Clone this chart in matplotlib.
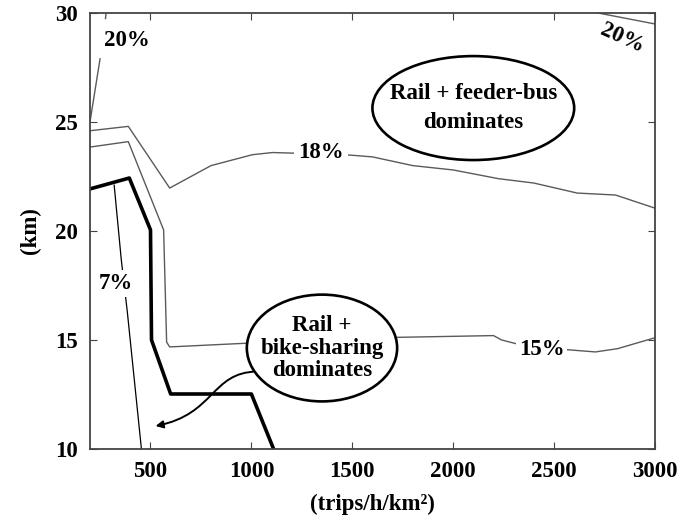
import matplotlib
matplotlib.use("Agg")
import matplotlib.pyplot as plt
import numpy as np
from matplotlib.patches import Ellipse, FancyArrowPatch
from matplotlib.path import Path

plt.rcParams['font.family'] = ['Liberation Serif', 'DejaVu Serif']
plt.rcParams['font.weight'] = 'bold'

# contour lines (nan = gap for the inline label)
c20a_x = [200, 250, np.nan, 277, 280]
c20a_y = [25.0, 27.9, np.nan, 29.75, 30.0]
c20b_x = [2720, 3000]
c20b_y = [30.0, 29.5]
c18_x = [200, 390, 595, 800, 1005, 1105, 1465, 1600, 1800, 2000, 2225, 2400, 2615, 2805, 3000]
c18_y = [24.6, 24.8, 21.97, 23.0, 23.5, 23.6, 23.5, 23.4, 23.0, 22.8, 22.4, 22.2, 21.74, 21.65, 21.05]
c15_x = [200, 390, 565, 580, 595, 975, 1605, 2200, 2240, 2365, 2705, 2815, 3000]
c15_y = [23.85, 24.1, 20.05, 14.9, 14.68, 14.85, 15.1, 15.2, 15.0, 14.7, 14.45, 14.6, 15.1]
c7_x = [320, 355, 385, 455]
c7_y = [22.1, 18.7, 16.3, 10.0]
bound_x = [200, 395, 500, 505, 600, 1000, 1110]
bound_y = [21.93, 22.43, 20.05, 15.0, 12.52, 12.52, 10.0]

fig = plt.figure(figsize=(6.79, 5.22), dpi=100)
ax = fig.add_axes([0.1325, 0.14, 0.832, 0.835])

gray = '#5a5a5a'
ax.plot(c20a_x, c20a_y, color=gray, lw=1)
ax.plot(c20b_x, c20b_y, color=gray, lw=1)
ax.plot(c18_x, c18_y, color=gray, lw=1)
ax.plot(c15_x, c15_y, color=gray, lw=1)
ax.plot(c7_x, c7_y, color='black', lw=0.9)
ax.plot(bound_x, bound_y, color='black', lw=2.6)

fs = 16.5
lbl = dict(fontsize=fs, fontweight='bold', ha='center', va='center')
ax.text(385, 28.75, '20%', **lbl)
ax.text(2840, 28.85, '20%', rotation=-24, **lbl)
ax.text(1345, 23.6, '18%', bbox=dict(fc='white', ec='none', pad=3), **lbl)
ax.text(2440, 14.55, '15%', bbox=dict(fc='white', ec='none', pad=2), **lbl)
ax.text(330, 17.6, '7%', bbox=dict(fc='white', ec='none', pad=2), **lbl)

e1 = Ellipse((2100, 25.64), 1000, 4.77, fc='white', ec='black', lw=1.9, zorder=4)
ax.add_patch(e1)
ax.text(2100, 25.64, 'Rail + feeder-bus\ndominates', fontsize=fs, fontweight='bold',
        ha='center', va='center', linespacing=1.45, zorder=5)

e2 = Ellipse((1350, 14.63), 745, 4.9, fc='white', ec='black', lw=1.9, zorder=4)
ax.add_patch(e2)
ax.text(1350, 14.63, 'Rail +\nbike-sharing\ndominates', fontsize=fs, fontweight='bold',
        ha='center', va='center', linespacing=1.1, zorder=5)

arrow_path = Path([(1025, 13.55), (800, 13.5), (820, 11.6), (525, 11.05)],
                  [Path.MOVETO, Path.CURVE4, Path.CURVE4, Path.CURVE4])
ax.add_patch(FancyArrowPatch(path=arrow_path, arrowstyle='-|>', mutation_scale=11,
                             color='black', lw=1.4, zorder=3))

ax.set_xlim(200, 3000)
ax.set_ylim(10, 30)
ax.set_xticks([500, 1000, 1500, 2000, 2500, 3000])
ax.set_yticks([10, 15, 20, 25, 30])
ax.tick_params(direction='in', top=True, right=True, length=5, labelsize=fs,
               color='#444444', pad=9)
for lab in ax.get_xticklabels() + ax.get_yticklabels():
    lab.set_fontweight('bold')
for s in ax.spines.values():
    s.set_color('#444444')
    s.set_linewidth(1.3)

ax.set_xlabel('(trips/h/km²)', fontsize=fs, fontweight='bold', labelpad=8)
ax.set_ylabel('(km)', fontsize=fs, fontweight='bold', labelpad=10)

fig.savefig('out.png', dpi=100)
